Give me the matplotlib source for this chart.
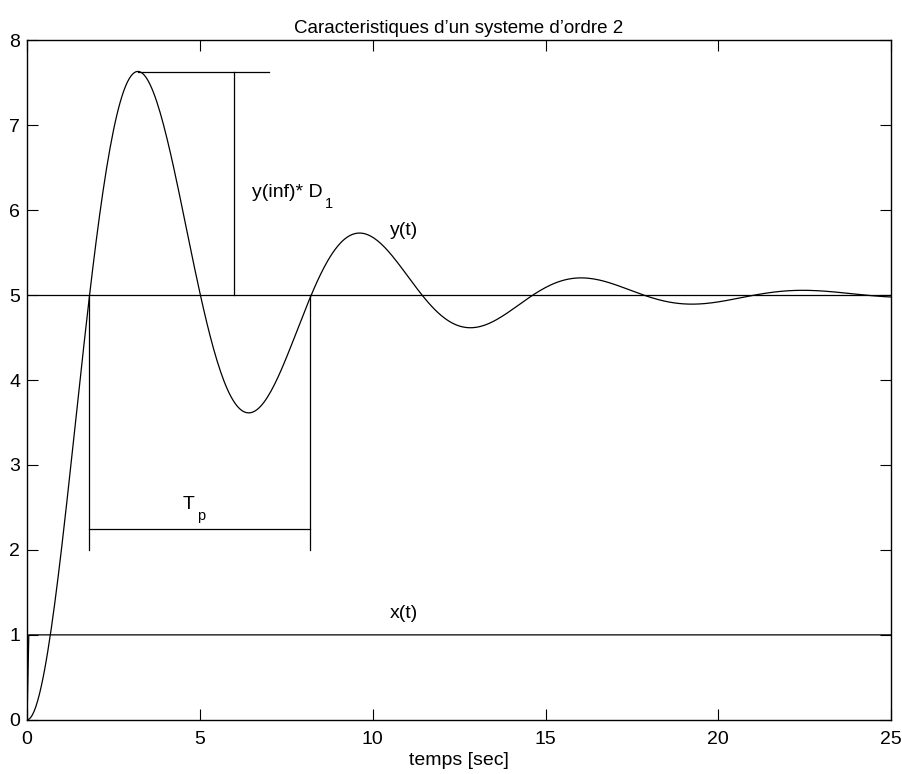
import numpy as np
import matplotlib
matplotlib.use("Agg")
import matplotlib.pyplot as plt

plt.rcParams['font.family'] = ['Liberation Sans', 'DejaVu Sans']

# Second-order system parameters
gain = 5.0          # y(inf)
zeta = 0.2          # damping ratio
wn = 1.0            # natural frequency [rad/s]
input_level = 1.0   # step amplitude of x(t)
t_end = 25.0
dt = 0.05

# Annotation values
t_peak = 3.2
y_peak = 7.63
t_cross1 = 1.8
t_cross2 = 8.2
tp_level = 2.25
marker_bottom = 2.0
overshoot_x = 6.0
peak_line_end = 7.0

t = np.arange(0, t_end + dt / 2, dt)
wd = wn * np.sqrt(1 - zeta ** 2)
phi = np.arccos(zeta)
y = gain * (1 - np.exp(-zeta * wn * t) / np.sqrt(1 - zeta ** 2) * np.sin(wd * t + phi))
x = np.where(t > 0, input_level, 0.0)

fig = plt.figure(figsize=(9.02, 7.74), dpi=100)
ax = fig.add_axes([0.030, 0.070, 0.958, 0.878])
lw = 0.9
k = 'black'
ax.plot(t, y, color=k, lw=lw)
ax.plot(t, x, color=k, lw=lw)
ax.plot([0, t_end], [gain, gain], color=k, lw=lw)
ax.plot([t_peak, peak_line_end], [y_peak, y_peak], color=k, lw=lw)
ax.plot([overshoot_x, overshoot_x], [gain, y_peak], color=k, lw=lw)
ax.plot([t_cross1, t_cross1], [marker_bottom, gain], color=k, lw=lw)
ax.plot([t_cross2, t_cross2], [marker_bottom, gain], color=k, lw=lw)
ax.plot([t_cross1, t_cross2], [tp_level, tp_level], color=k, lw=lw)

fs = 14
sub_fs = 10.5


def label_with_sub(xpos, ypos, main, sub):
    txt = ax.text(xpos, ypos, main, fontsize=fs, va='baseline', ha='left')
    # subscript hangs just below the baseline of the main text
    ax.annotate(sub, xy=(1, 0), xycoords=txt, xytext=(1.5, 3.0),
                textcoords='offset points', fontsize=sub_fs,
                va='top', ha='left')
    return txt


label_with_sub(6.5, 6.15, "y(inf)* D", "1")
label_with_sub(4.5, 2.48, "T", "p")
ax.text(10.5, 5.71, "y(t)", fontsize=fs, va='baseline', ha='left')
ax.text(10.5, 1.2, "x(t)", fontsize=fs, va='baseline', ha='left')

ax.set_xlim(0, 25)
ax.set_ylim(0, 8)
ax.set_xticks([0, 5, 10, 15, 20, 25])
ax.set_yticks(range(0, 9))
ax.tick_params(direction='in', top=True, right=True, length=8, width=0.8,
               labelsize=fs)
ax.tick_params(axis='x', pad=8)
ax.tick_params(axis='y', pad=5)
for s in ax.spines.values():
    s.set_linewidth(1.0)
ax.set_title("Caracteristiques d\u2019un systeme d\u2019ordre 2", fontsize=13.5, pad=5)
ax.set_xlabel("temps [sec]", fontsize=fs, labelpad=3)

fig.savefig("out.png", dpi=100)
